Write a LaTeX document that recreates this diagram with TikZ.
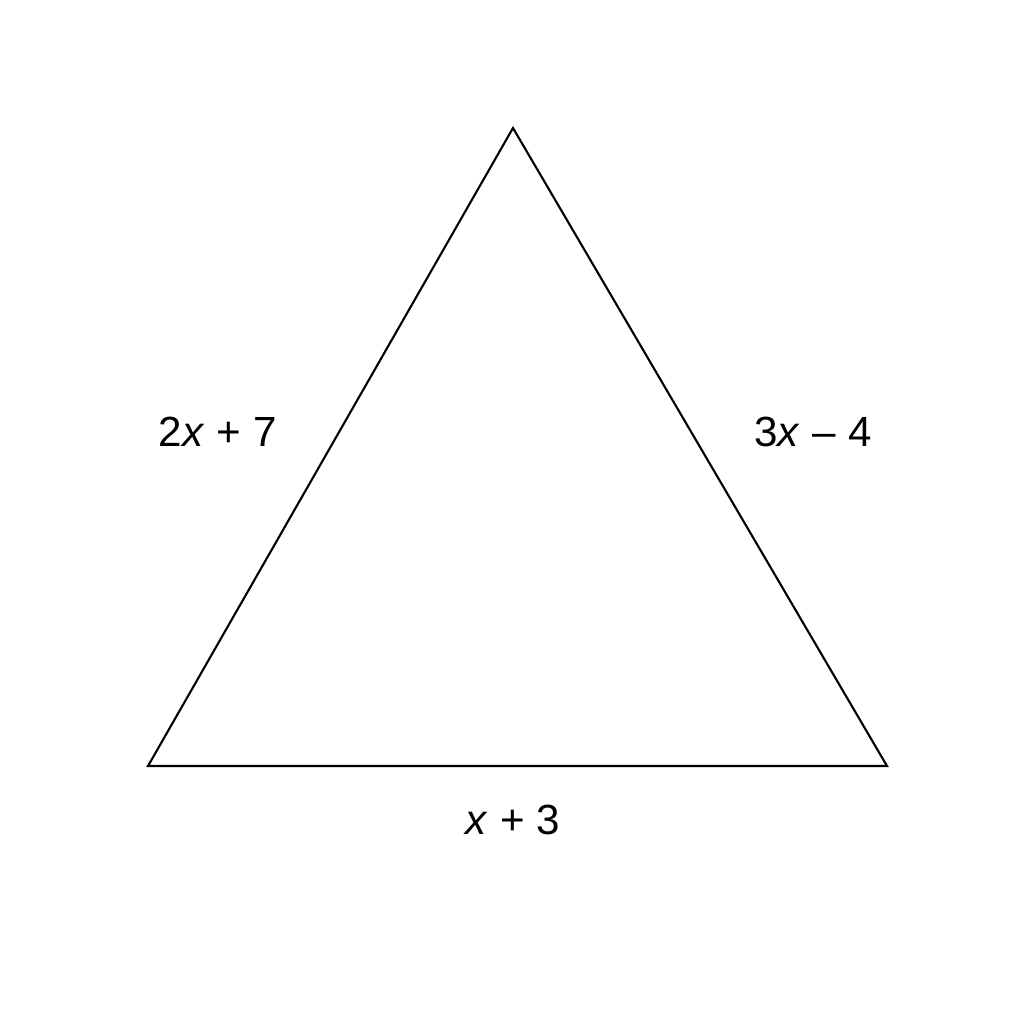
\documentclass[tikz,border=0pt]{standalone}
\usepackage{fontspec}
\setmainfont{Liberation Sans}
\tikzset{
  side/.style={draw=black, line width=0.6pt, line join=miter},
  lbl/.style={font=\fontsize{12}{14}\selectfont, inner sep=0pt, text=black}
}
\newcommand{\gp}{\hspace{0.29em}}
\begin{document}
\begin{tikzpicture}
\useasboundingbox (0,0) rectangle (10.24,10.24);
\coordinate (T) at (5.13,8.96);
\coordinate (L) at (1.48,2.58);
\coordinate (R) at (8.87,2.58);
\draw[side] (T) -- (R) -- (L) -- cycle;
\node[lbl] (a) at (2.18,5.92) {2\textit{x}\gp+\gp7};
\node[lbl] (b) at (8.13,5.92) {3\textit{x}\gp–\gp4};
\node[lbl] (c) at (5.13,2.04) {\textit{x}\gp+\gp3};
\end{tikzpicture}
\end{document}
